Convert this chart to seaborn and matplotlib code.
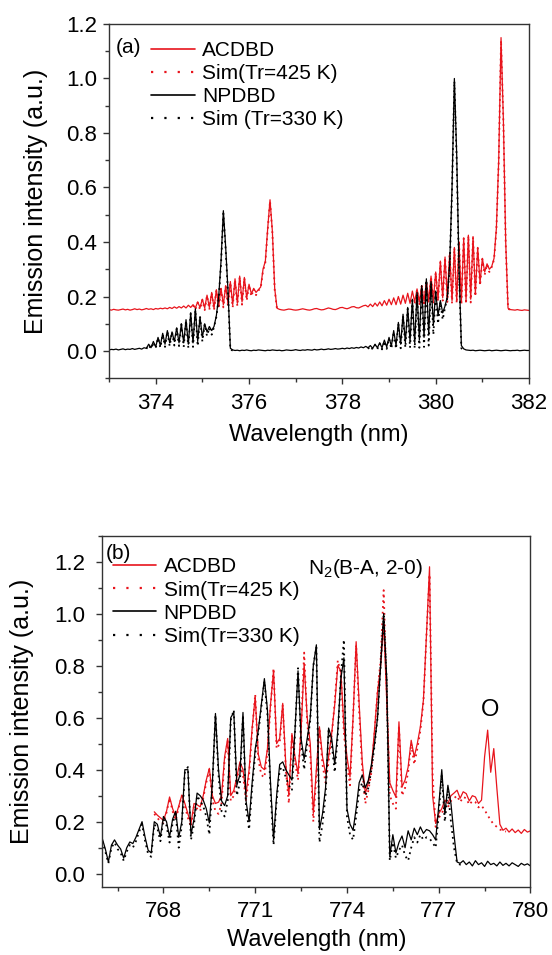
import numpy as np
import pandas as pd
import seaborn as sns
import matplotlib.pyplot as plt
from matplotlib.ticker import MultipleLocator, FormatStrFormatter
from matplotlib.lines import Line2D

# ---------------- panel (a): 0.05 nm sampling from 373.00 nm ----------------
a_start, a_step = 373.00, 0.05

npdbd_a = [
    # 373.00 - 373.75
    0.004, 0.006, 0.005, 0.007, 0.004, 0.006, 0.008, 0.005, 0.007, 0.006,
    0.009, 0.006, 0.008, 0.010, 0.007, 0.012,
    # 373.80 - 375.60
    0.010, 0.025, 0.012, 0.035, 0.015, 0.050, 0.020, 0.065, 0.025, 0.075,
    0.030, 0.070, 0.035, 0.085, 0.030, 0.100, 0.030, 0.115, 0.025, 0.140,
    0.030, 0.155, 0.035, 0.125, 0.050, 0.100, 0.070, 0.090, 0.075, 0.090,
    0.130, 0.200, 0.330, 0.515, 0.380, 0.220, 0.010,
    # 375.65 - 378.50
    0.004, 0.002, 0.003, 0.001, 0.003, 0.002, 0.004, 0.002, 0.001, 0.003,
    0.002, 0.004, 0.003, 0.002, 0.001, 0.003, 0.002, 0.004, 0.003, 0.002,
    0.003, 0.001, 0.002, 0.004, 0.003, 0.002, 0.003, 0.005, 0.003, 0.002,
    0.004, 0.003, 0.005, 0.004, 0.003, 0.006, 0.004, 0.005, 0.007, 0.005,
    0.006, 0.008, 0.006, 0.007, 0.009, 0.007, 0.008, 0.010, 0.008, 0.011,
    0.009, 0.012, 0.010, 0.013, 0.011, 0.015, 0.012, 0.017,
    # 378.55 - 380.55
    0.012, 0.020, 0.010, 0.025, 0.012, 0.030, 0.012, 0.040, 0.015, 0.050,
    0.018, 0.075, 0.020, 0.105, 0.025, 0.135, 0.030, 0.160, 0.035, 0.190,
    0.030, 0.215, 0.040, 0.240, 0.050, 0.265, 0.060, 0.255, 0.095, 0.220,
    0.130, 0.185, 0.140, 0.165, 0.200, 0.320, 0.600, 1.000, 0.720, 0.300,
    0.020,
    # 380.60 - 382.00
    0.008, 0.004, 0.003, 0.002, 0.003, 0.001, 0.002, 0.003, 0.002, 0.001,
    0.002, 0.003, 0.001, 0.002, 0.003, 0.002, 0.001, 0.002, 0.003, 0.002,
    0.001, 0.002, 0.002, 0.003, 0.001, 0.002, 0.003, 0.002, 0.002,
]

acdbd_a = [
    # 373.00 - 374.75
    0.152, 0.150, 0.153, 0.151, 0.150, 0.152, 0.154, 0.151, 0.153, 0.150,
    0.152, 0.155, 0.152, 0.154, 0.151, 0.153, 0.156, 0.153, 0.155, 0.152,
    0.156, 0.154, 0.157, 0.155, 0.158, 0.155, 0.160, 0.156, 0.162, 0.157,
    0.163, 0.158, 0.165, 0.158, 0.168, 0.160,
    # 374.80 - 376.60
    0.170, 0.158, 0.180, 0.160, 0.190, 0.158, 0.205, 0.160, 0.215, 0.158,
    0.225, 0.165, 0.230, 0.170, 0.240, 0.175, 0.255, 0.170, 0.265, 0.175,
    0.275, 0.180, 0.270, 0.195, 0.245, 0.210, 0.230, 0.215, 0.225, 0.235,
    0.300, 0.330, 0.450, 0.555, 0.440, 0.230, 0.157,
    # 376.65 - 378.45
    0.153, 0.151, 0.150, 0.152, 0.154, 0.153, 0.151, 0.150, 0.151, 0.153,
    0.155, 0.153, 0.151, 0.150, 0.152, 0.155, 0.156, 0.153, 0.151, 0.152,
    0.155, 0.158, 0.156, 0.153, 0.152, 0.155, 0.159, 0.160, 0.157, 0.155,
    0.158, 0.162, 0.163, 0.159, 0.158, 0.162, 0.166,
    # 378.50 - 379.75
    0.168, 0.162, 0.172, 0.163, 0.176, 0.165, 0.180, 0.166, 0.185, 0.168,
    0.190, 0.170, 0.195, 0.170, 0.200, 0.172, 0.205, 0.175, 0.212, 0.175,
    0.220, 0.180, 0.228, 0.180, 0.240, 0.182,
    # 379.80 - 381.60
    0.255, 0.185, 0.275, 0.185, 0.290, 0.190, 0.330, 0.195, 0.345, 0.190,
    0.360, 0.185, 0.380, 0.185, 0.400, 0.180, 0.415, 0.185, 0.425, 0.190,
    0.420, 0.210, 0.380, 0.250, 0.340, 0.290, 0.320, 0.300, 0.310, 0.340,
    0.450, 0.700, 1.150, 0.850, 0.400, 0.157, 0.152,
    # 381.65 - 382.00
    0.151, 0.150, 0.152, 0.150, 0.149, 0.151, 0.150, 0.149,
]

# simulated spectra, given over the two band regions only
sim330_a_starts = [373.80, 378.55]
sim330_a_band1 = [
    0.008, 0.022, 0.008, 0.032, 0.010, 0.048, 0.012, 0.062, 0.015, 0.072,
    0.018, 0.070, 0.020, 0.082, 0.018, 0.098, 0.015, 0.112, 0.012, 0.138,
    0.015, 0.150, 0.018, 0.128, 0.035, 0.098, 0.055, 0.085, 0.060, 0.088,
    0.125, 0.190, 0.320, 0.505, 0.370, 0.210, 0.005, 0.002,
]
sim330_a_band2 = [
    0.008, 0.018, 0.006, 0.022, 0.007, 0.028, 0.006, 0.036, 0.008, 0.046,
    0.008, 0.070, 0.008, 0.100, 0.010, 0.130, 0.012, 0.155, 0.012, 0.185,
    0.010, 0.210, 0.012, 0.235, 0.015, 0.260, 0.020, 0.250, 0.060, 0.215,
    0.100, 0.180, 0.115, 0.160, 0.195, 0.310, 0.590, 0.990, 0.700, 0.290,
    0.010, 0.002,
]
sim425_a_starts = [374.80, 379.55]
sim425_a_band1 = [
    0.168, 0.152, 0.178, 0.152, 0.188, 0.150, 0.203, 0.152, 0.213, 0.150,
    0.223, 0.155, 0.228, 0.160, 0.238, 0.165, 0.252, 0.160, 0.262, 0.165,
    0.272, 0.170, 0.268, 0.185, 0.242, 0.200, 0.228, 0.205, 0.222, 0.230,
    0.295, 0.325, 0.445, 0.550, 0.435, 0.225, 0.153, 0.151,
]
sim425_a_band2 = [
    0.175, 0.226, 0.172, 0.238, 0.175, 0.252, 0.178, 0.272, 0.178, 0.288,
    0.182, 0.328, 0.185, 0.343, 0.180, 0.358, 0.175, 0.378, 0.175, 0.398,
    0.170, 0.413, 0.172, 0.423, 0.178, 0.418, 0.200, 0.378, 0.240, 0.338,
    0.280, 0.318, 0.290, 0.308, 0.335, 0.445, 0.695, 1.140, 0.845, 0.395,
    0.155, 0.151,
]

# ---------------- panel (b): 0.1 nm sampling ----------------
b_step = 0.1
npdbd_b_start = 766.0
npdbd_b = [
    0.135, 0.095, 0.045, 0.110, 0.130, 0.110, 0.095, 0.060, 0.100, 0.122,
    0.116, 0.140, 0.170, 0.200, 0.140, 0.090, 0.080, 0.200, 0.190, 0.142,
    0.220, 0.200, 0.142, 0.210, 0.240, 0.140, 0.200, 0.400, 0.400, 0.150,
    0.210, 0.310, 0.300, 0.283, 0.250, 0.195, 0.350, 0.616, 0.400, 0.280,
    0.262, 0.300, 0.600, 0.620, 0.340, 0.380, 0.620, 0.280, 0.200, 0.350,
    0.480, 0.550, 0.650, 0.750, 0.630, 0.350, 0.130, 0.300, 0.420, 0.430,
    0.400, 0.380, 0.360, 0.550, 0.780, 0.520, 0.440, 0.520, 0.600, 0.800,
    0.880, 0.170, 0.230, 0.330, 0.560, 0.520, 0.420, 0.550, 0.750, 0.830,
    0.250, 0.190, 0.167, 0.250, 0.350, 0.380, 0.330, 0.360, 0.420, 0.500,
    0.600, 0.800, 1.000, 0.750, 0.065, 0.150, 0.080, 0.120, 0.145, 0.100,
    0.165, 0.130, 0.175, 0.150, 0.180, 0.155, 0.170, 0.165, 0.150, 0.130,
    0.260, 0.400, 0.230, 0.340, 0.270, 0.150, 0.045, 0.040, 0.050, 0.035,
    0.045, 0.030, 0.050, 0.035, 0.042, 0.028, 0.048, 0.035, 0.040, 0.030,
    0.045, 0.032, 0.040, 0.030, 0.042, 0.035, 0.028, 0.040, 0.033, 0.038,
    0.030,
]
acdbd_b_start = 767.7
acdbd_b = [
    0.238, 0.225, 0.215, 0.205, 0.240, 0.295, 0.250, 0.220, 0.260, 0.302,
    0.270, 0.230, 0.193, 0.270, 0.265, 0.257, 0.300, 0.360, 0.405, 0.300,
    0.270, 0.275, 0.300, 0.450, 0.520, 0.300, 0.320, 0.372, 0.430, 0.400,
    0.308, 0.400, 0.560, 0.680, 0.460, 0.410, 0.400, 0.480, 0.650, 0.780,
    0.500, 0.520, 0.655, 0.420, 0.300, 0.539, 0.450, 0.385, 0.550, 0.808,
    0.600, 0.500, 0.232, 0.400, 0.565, 0.450, 0.385, 0.450, 0.539, 0.650,
    0.800, 0.780, 0.565, 0.450, 0.372, 0.600, 0.892, 0.650, 0.430, 0.308,
    0.350, 0.410, 0.552, 0.700, 0.795, 0.962, 0.668, 0.350, 0.320, 0.295,
    0.584, 0.334, 0.360, 0.410, 0.513, 0.449, 0.500, 0.565, 0.668, 0.920,
    1.180, 0.300, 0.193, 0.231, 0.250, 0.283, 0.270, 0.300, 0.310, 0.321,
    0.290, 0.315, 0.308, 0.280, 0.300, 0.295, 0.270, 0.283, 0.450, 0.552,
    0.390, 0.481, 0.330, 0.190, 0.167, 0.175, 0.160, 0.172, 0.158, 0.168,
    0.155, 0.170, 0.160, 0.165,
]
sim425_b_start = 767.7
sim425_b = [
    0.230, 0.215, 0.200, 0.195, 0.235, 0.290, 0.240, 0.205, 0.255, 0.300,
    0.260, 0.215, 0.180, 0.262, 0.250, 0.240, 0.290, 0.350, 0.400, 0.285,
    0.240, 0.230, 0.270, 0.440, 0.510, 0.280, 0.300, 0.360, 0.420, 0.380,
    0.280, 0.380, 0.550, 0.690, 0.440, 0.380, 0.370, 0.470, 0.640, 0.790,
    0.480, 0.500, 0.650, 0.400, 0.270, 0.530, 0.430, 0.360, 0.560, 0.850,
    0.580, 0.460, 0.200, 0.380, 0.560, 0.420, 0.350, 0.430, 0.530, 0.660,
    0.820, 0.770, 0.540, 0.420, 0.340, 0.600, 0.880, 0.620, 0.400, 0.270,
    0.320, 0.390, 0.540, 0.700, 0.820, 1.090, 0.700, 0.300, 0.270, 0.250,
    0.570, 0.300, 0.330, 0.390, 0.500, 0.420, 0.480, 0.550, 0.660, 0.920,
    1.150, 0.380, 0.180, 0.215, 0.230, 0.262, 0.255, 0.280, 0.290, 0.300,
    0.275, 0.295, 0.290, 0.265, 0.280, 0.275, 0.255, 0.262, 0.245, 0.225,
    0.205, 0.190, 0.180, 0.170, 0.165, 0.162,
]
sim330_b_start = 766.0
sim330_b = [
    0.125, 0.085, 0.040, 0.100, 0.120, 0.095, 0.080, 0.050, 0.085, 0.110,
    0.100, 0.125, 0.160, 0.190, 0.125, 0.075, 0.065, 0.190, 0.175, 0.125,
    0.210, 0.185, 0.120, 0.195, 0.230, 0.100, 0.185, 0.390, 0.410, 0.130,
    0.190, 0.300, 0.280, 0.260, 0.220, 0.150, 0.340, 0.610, 0.380, 0.240,
    0.220, 0.280, 0.590, 0.630, 0.300, 0.350, 0.610, 0.250, 0.170, 0.330,
    0.460, 0.540, 0.640, 0.740, 0.610, 0.320, 0.110, 0.280, 0.400, 0.410,
    0.370, 0.340, 0.320, 0.540, 0.790, 0.500, 0.400, 0.500, 0.590, 0.800,
    0.870, 0.120, 0.190, 0.300, 0.550, 0.500, 0.390, 0.530, 0.760, 0.900,
    0.220, 0.150, 0.130, 0.220, 0.320, 0.350, 0.300, 0.330, 0.400, 0.490,
    0.600, 0.800, 0.990, 0.740, 0.050, 0.120, 0.060, 0.090, 0.110, 0.070,
    0.050, 0.100, 0.140, 0.120, 0.150, 0.130, 0.140, 0.135, 0.120, 0.100,
    0.230, 0.380, 0.200, 0.320, 0.200, 0.100, 0.040, 0.035, 0.040,
]

labels_a = ["ACDBD", "Sim(Tr=425 K)", "NPDBD", "Sim (Tr=330 K)"]
labels_b = ["ACDBD", "Sim(Tr=425 K)", "NPDBD", "Sim(Tr=330 K)"]

RED = "#e8141c"
DOT = (0, (1, 2.2))
LEG_DOT = (0, (1, 5))


def spectrum(start, step, values):
    return pd.DataFrame({"wl": start + step * np.arange(len(values)),
                         "I": values})


def draw(ax, df, color, sim=False):
    if sim:
        sns.lineplot(data=df, x="wl", y="I", ax=ax, color=color, lw=1.3,
                     linestyle=DOT, estimator=None, sort=False, legend=False)
    else:
        sns.lineplot(data=df, x="wl", y="I", ax=ax, color=color, lw=0.9,
                     estimator=None, sort=False, legend=False)


sns.set_theme(style="ticks", rc={"text.color": "black",
                                 "axes.labelcolor": "black",
                                 "xtick.color": "black",
                                 "ytick.color": "black"})
plt.rcParams["font.family"] = ["Liberation Sans", "DejaVu Sans"]
plt.rcParams["mathtext.fontset"] = "custom"
plt.rcParams["mathtext.rm"] = "Liberation Sans"

fig = plt.figure(figsize=(5.52, 9.55), dpi=100)
ax_a = fig.add_axes([0.1975, 0.6039, 0.7609, 0.3710])
ax_b = fig.add_axes([0.1853, 0.0715, 0.7757, 0.3677])

# panel (a)
draw(ax_a, spectrum(a_start, a_step, acdbd_a), RED)
for s, vals in zip(sim425_a_starts, [sim425_a_band1, sim425_a_band2]):
    draw(ax_a, spectrum(s, a_step, vals), RED, sim=True)
draw(ax_a, spectrum(a_start, a_step, npdbd_a), "black")
for s, vals in zip(sim330_a_starts, [sim330_a_band1, sim330_a_band2]):
    draw(ax_a, spectrum(s, a_step, vals), "black", sim=True)

# panel (b)
draw(ax_b, spectrum(acdbd_b_start, b_step, acdbd_b), RED)
draw(ax_b, spectrum(sim425_b_start, b_step, sim425_b), RED, sim=True)
draw(ax_b, spectrum(npdbd_b_start, b_step, npdbd_b), "black")
draw(ax_b, spectrum(sim330_b_start, b_step, sim330_b), "black", sim=True)

handles = [Line2D([], [], color=RED, lw=1.2),
           Line2D([], [], color=RED, lw=1.6, linestyle=LEG_DOT),
           Line2D([], [], color="black", lw=1.2),
           Line2D([], [], color="black", lw=1.6, linestyle=LEG_DOT)]

ax_a.set_xlim(373, 382)
ax_a.set_ylim(-0.1, 1.2)
ax_a.xaxis.set_major_locator(MultipleLocator(2))
ax_a.xaxis.set_minor_locator(MultipleLocator(1))

ax_b.set_xlim(766, 780)
ax_b.set_ylim(-0.05, 1.3)
ax_b.xaxis.set_major_locator(MultipleLocator(3))
ax_b.xaxis.set_minor_locator(MultipleLocator(1.5))

for ax, labels, hx, hy, tag, tx, ty, ypad, xlpad, ylpad in [
        (ax_a, labels_a, 0.10, 0.952, "(a)", 0.017, 0.935, 4, 7, 13),
        (ax_b, labels_b, 0.024, 0.938, "(b)", 0.008, 0.95, 8, 5, 14)]:
    ax.yaxis.set_major_locator(MultipleLocator(0.2))
    ax.yaxis.set_minor_locator(MultipleLocator(0.1))
    ax.yaxis.set_major_formatter(FormatStrFormatter("%.1f"))
    ax.tick_params(axis="both", which="major", direction="out", length=4.5,
                   width=1, labelsize=16, color="#333333")
    ax.tick_params(axis="both", which="minor", direction="out", length=3,
                   width=1, color="#333333")
    ax.tick_params(axis="x", which="major", pad=6)
    ax.tick_params(axis="y", which="major", pad=ypad)
    for sp in ax.spines.values():
        sp.set_visible(True)
        sp.set_linewidth(1.0)
        sp.set_color("#333333")
    ax.set_xlabel("Wavelength (nm)", fontsize=17, labelpad=xlpad)
    ax.set_ylabel("Emission intensity (a.u.)", fontsize=18, labelpad=ylpad)
    ax.legend(handles, labels, loc="upper left", bbox_to_anchor=(hx, hy),
              frameon=False, fontsize=15, handlelength=2.1,
              handletextpad=0.35, labelspacing=0.2, borderpad=0,
              borderaxespad=0)
    ax.text(tx, ty, tag, transform=ax.transAxes, fontsize=15,
            ha="left", va="center")

ax_b.text(772.72, 1.175, r"N$_2$(B-A, 2-0)", fontsize=15, ha="left",
          va="center")
ax_b.text(778.67, 0.63, "O", fontsize=17, ha="center", va="center")

fig.savefig("out.png", dpi=100)
